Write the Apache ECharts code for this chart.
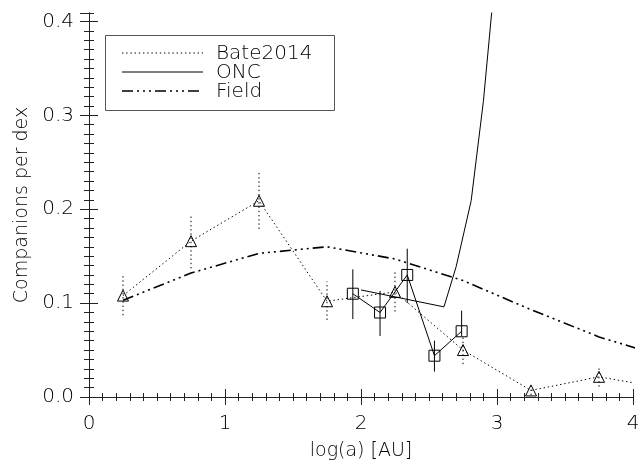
<!DOCTYPE html>
<html><head><meta charset="utf-8">
<script src="https://cdn.jsdelivr.net/npm/echarts@6/dist/echarts.min.js"></script>
<style>html,body{margin:0;padding:0;background:#fff}#c{width:640px;height:466px}</style>
</head><body><div id="c"></div>
<script>
// ---- data ----
const bateX  = [0.25, 0.75, 1.25, 1.75, 2.25, 2.75, 3.25, 3.75, 4.25];
const bateY  = [0.108, 0.166, 0.209, 0.102, 0.112, 0.050, 0.007, 0.0215, 0.009];
const bateLo = [0.087, 0.137, 0.179, 0.082, 0.091, 0.035, 0.002, 0.011, 0.004];
const bateHi = [0.130, 0.195, 0.241, 0.123, 0.134, 0.065, 0.012, 0.031, 0.014];

const oncX  = [1.94, 2.14, 2.34, 2.54, 2.74];
const oncY  = [0.110, 0.090, 0.130, 0.044, 0.070];
const oncLo = [0.083, 0.065, 0.100, 0.027, 0.065];
const oncHi = [0.136, 0.113, 0.158, 0.060, 0.092];

const oncCurveX = [2.00, 2.61, 2.70, 2.81, 2.90, 2.96, 3.00];
const oncCurveY = [0.114, 0.096, 0.139, 0.209, 0.315, 0.408, 0.470];

const fieldX = [0.25, 0.75, 1.25, 1.75, 2.25, 2.75, 3.25, 3.75, 4.25];
const fieldY = [0.103, 0.132, 0.153, 0.160, 0.147, 0.124, 0.093, 0.064, 0.042];

const xTicks = [0, 1, 2, 3, 4];
const yTicks = [0.0, 0.1, 0.2, 0.3, 0.4];
const legendNames = ['Bate2014', 'ONC', 'Field'];

// ---- chart ----
const FONT = "'DejaVu Sans', sans-serif";
const FW = 200;
const dotted = [1.4, 2.8];
const dashDot = [11, 4, 2, 4, 2, 4, 2, 4];
const zip = (a, b) => a.map((v, i) => [v, b[i]]);

function errSeries(xs, lo, hi, dash) {
  return {
    type: 'custom', xAxisIndex: 0, yAxisIndex: 0, clip: true, silent: true, z: 1,
    data: xs.map((x, i) => [x, lo[i], hi[i]]),
    renderItem: (params, api) => {
      const a = api.coord([api.value(0), api.value(1)]);
      const b = api.coord([api.value(0), api.value(2)]);
      return { type: 'line', shape: { x1: a[0], y1: a[1], x2: b[0], y2: b[1] },
        style: { stroke: '#000', lineWidth: 1, lineDash: dash } };
    }
  };
}

const yMax = 0.409;
const axLine = { show: true, lineStyle: { color: '#222', width: 1 } };
const noLine = { show: false };
const tickTxt = { fontSize: 20, fontFamily: FONT, fontWeight: FW, color: '#000' };
const nameTxt = { fontSize: 19, fontFamily: FONT, fontWeight: FW, color: '#000' };
function yAx(pos, interval, len, labels, line) {
  return {
    type: 'value', position: pos, min: 0, max: yMax, interval: interval,
    axisLine: line ? axLine : noLine, splitLine: { show: false },
    axisTick: { show: true, inside: true, length: len, lineStyle: { color: '#222' } },
    axisLabel: labels ? Object.assign({ show: true, showMaxLabel: false, margin: 15,
      formatter: v => (yTicks.some(t => Math.abs(t - v) < 1e-9) ? v.toFixed(1) : '') }, tickTxt) : { show: false },
    name: labels && pos === 'left' ? 'Companions per dex' : '',
    nameLocation: 'middle', nameGap: 52, nameRotate: 90,
    nameTextStyle: nameTxt
  };
}
function xAx(pos, interval, len, labels, line) {
  return {
    type: 'value', position: pos, min: 0, max: 4, interval: interval,
    axisLine: line ? axLine : noLine, splitLine: { show: false },
    axisTick: { show: true, inside: true, length: len, lineStyle: { color: '#222' } },
    axisLabel: labels ? Object.assign({ show: true, margin: 17,
      formatter: v => (xTicks.includes(v) ? String(v) : '') }, tickTxt) : { show: false },
    name: labels ? 'log(a) [AU]' : '', nameLocation: 'middle', nameGap: 45,
    nameTextStyle: nameTxt
  };
}

const chart = echarts.init(document.getElementById('c'), null, { renderer: 'canvas' });
const LX = 103, LY = 33;
const lf = FW + " 20px " + FONT;
chart.setOption({
  animation: false,
  backgroundColor: '#fff',
  grid: { left: 89, right: 7, top: 13, bottom: 69, containLabel: false, outerBoundsMode: 'none' },
  xAxis: [xAx('bottom', 1, 8, true, true), xAx('bottom', 0.1, 4, false, false),
          xAx('top', 1, 8, false, true), xAx('top', 0.1, 4, false, false)],
  yAxis: [yAx('left', 0.1, 9, true, true), yAx('left', 0.01, 5, false, false),
          yAx('right', 0.1, 9, false, true), yAx('right', 0.01, 5, false, false)],
  series: [
    errSeries(bateX, bateLo, bateHi, dotted),
    errSeries(oncX, oncLo, oncHi, null),
    { type: 'line', name: 'Field', data: zip(fieldX, fieldY), showSymbol: false, symbol: 'none',
      lineStyle: { color: '#000', width: 1.6, type: dashDot }, z: 2 },
    { type: 'line', name: 'ONC', data: zip(oncCurveX, oncCurveY), showSymbol: false, symbol: 'none',
      lineStyle: { color: '#000', width: 1 }, z: 2 },
    { type: 'line', name: 'ONCpts', data: zip(oncX, oncY), symbol: 'rect', symbolSize: 11,
      itemStyle: { color: 'rgba(0,0,0,0)', borderColor: '#000', borderWidth: 1 },
      lineStyle: { color: '#000', width: 1 }, z: 3 },
    { type: 'line', name: 'Bate2014', data: zip(bateX, bateY), symbol: 'triangle', symbolSize: 11,
      itemStyle: { color: 'rgba(0,0,0,0)', borderColor: '#000', borderWidth: 1 },
      lineStyle: { color: '#000', width: 1, type: dotted }, z: 3 }
  ],
  graphic: [
    { type: 'rect', left: LX, top: LY, shape: { width: 229, height: 75 }, style: { fill: 'none', stroke: '#555', lineWidth: 1 }, z: 10 },
    { type: 'line', shape: { x1: LX + 19, y1: LY + 20, x2: LX + 100, y2: LY + 20 }, style: { stroke: '#000', lineWidth: 1, lineDash: dotted }, z: 10 },
    { type: 'line', shape: { x1: LX + 19, y1: LY + 39, x2: LX + 100, y2: LY + 39 }, style: { stroke: '#000', lineWidth: 1 }, z: 10 },
    { type: 'line', shape: { x1: LX + 19, y1: LY + 58, x2: LX + 100, y2: LY + 58 }, style: { stroke: '#000', lineWidth: 1.6, lineDash: dashDot }, z: 10 },
    { type: 'text', left: LX + 113, top: LY + 11, style: { text: legendNames[0], font: lf, fill: '#000' }, z: 10 },
    { type: 'text', left: LX + 113, top: LY + 30, style: { text: legendNames[1], font: lf, fill: '#000' }, z: 10 },
    { type: 'text', left: LX + 113, top: LY + 49, style: { text: legendNames[2], font: lf, fill: '#000' }, z: 10 }
  ]
});
</script></body></html>
